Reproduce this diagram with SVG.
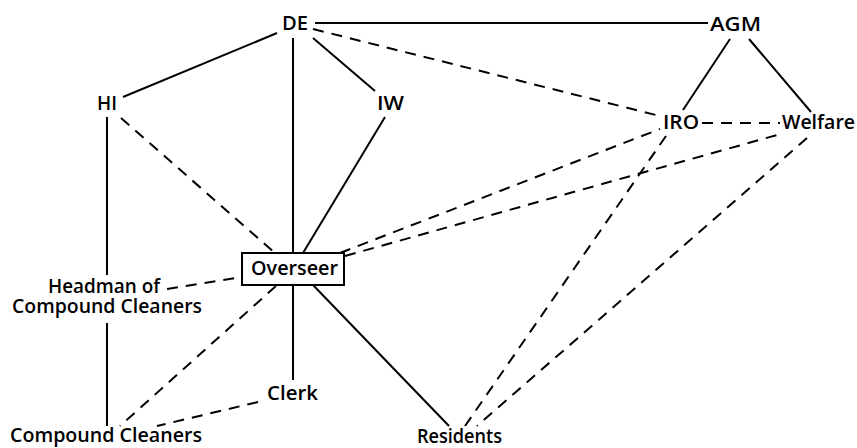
<svg xmlns="http://www.w3.org/2000/svg" width="857" height="448" viewBox="0 0 857 448">
  <style>
    .bg { fill: #ffffff; }
    .solid { stroke: #000; stroke-width: 2; fill: none; stroke-linecap: butt; }
    .dash { stroke: #000; stroke-width: 2; fill: none; stroke-dasharray: 11 8; }
    .lbl { font-family: "Open Sans", "Liberation Sans", sans-serif; font-size: 20px; font-weight: 600; fill: #000; }
    .box { fill: #fff; stroke: #000; stroke-width: 2; }
  </style>
  <rect class="bg" x="0" y="0" width="857" height="448"/>

  <!-- connectors -->
  <g id="connectors">
    <!-- solid lines: formal authority -->
    <line class="solid" x1="315" y1="23" x2="708" y2="23"/>
    <line class="solid" x1="277" y1="33" x2="123" y2="97"/>
    <line class="solid" x1="313" y1="38" x2="375" y2="91"/>
    <line class="solid" x1="293" y1="38" x2="293" y2="253"/>
    <line class="solid" x1="385" y1="117" x2="303" y2="253"/>
    <line class="solid" x1="730" y1="39" x2="683" y2="110"/>
    <line class="solid" x1="749" y1="39" x2="811" y2="112"/>
    <line class="solid" x1="107" y1="117" x2="107" y2="275"/>
    <line class="solid" x1="107" y1="323" x2="107" y2="426"/>
    <line class="solid" x1="293" y1="285" x2="293" y2="380"/>
    <line class="solid" x1="313" y1="285" x2="449" y2="426"/>
    <!-- dashed lines: informal contact -->
    <line class="dash" x1="313" y1="29" x2="660" y2="116"/>
    <line class="dash" x1="702" y1="123" x2="780" y2="123"/>
    <line class="dash" x1="121" y1="118" x2="275" y2="253"/>
    <line class="dash" x1="167" y1="289" x2="242" y2="277"/>
    <line class="dash" x1="340" y1="253" x2="660" y2="129"/>
    <line class="dash" x1="345" y1="256" x2="777" y2="135"/>
    <line class="dash" x1="276" y1="286" x2="120" y2="426"/>
    <line class="dash" x1="258" y1="402" x2="157" y2="426"/>
    <line class="dash" x1="666" y1="136" x2="465" y2="426"/>
    <line class="dash" x1="807" y1="138" x2="477" y2="426"/>
  </g>

  <!-- nodes -->
  <g id="node-de"><text class="lbl" x="282" y="30" textLength="26" lengthAdjust="spacingAndGlyphs">DE</text></g>
  <g id="node-agm"><text class="lbl" x="710" y="31" textLength="51" lengthAdjust="spacingAndGlyphs">AGM</text></g>
  <g id="node-hi"><text class="lbl" x="97" y="110" textLength="20" lengthAdjust="spacingAndGlyphs">HI</text></g>
  <g id="node-iw"><text class="lbl" x="377" y="110" textLength="27" lengthAdjust="spacingAndGlyphs">IW</text></g>
  <g id="node-iro"><text class="lbl" x="663" y="129" textLength="36" lengthAdjust="spacingAndGlyphs">IRO</text></g>
  <g id="node-welfare"><text class="lbl" x="782" y="129" textLength="73" lengthAdjust="spacingAndGlyphs">Welfare</text></g>
  <g id="node-overseer">
    <rect class="box" x="242" y="253" width="102" height="32"/>
    <text class="lbl" x="251" y="275" textLength="87" lengthAdjust="spacingAndGlyphs">Overseer</text>
  </g>
  <g id="node-headman">
    <text class="lbl"><tspan x="48" y="293" textLength="112" lengthAdjust="spacingAndGlyphs">Headman of</tspan><tspan x="12" y="313" textLength="190" lengthAdjust="spacingAndGlyphs">Compound Cleaners</tspan></text>
  </g>
  <g id="node-clerk"><text class="lbl" x="267" y="400" textLength="51" lengthAdjust="spacingAndGlyphs">Clerk</text></g>
  <g id="node-cleaners"><text class="lbl" x="10" y="442" textLength="192" lengthAdjust="spacingAndGlyphs">Compound Cleaners</text></g>
  <g id="node-residents"><text class="lbl" x="417" y="443" textLength="85" lengthAdjust="spacingAndGlyphs">Residents</text></g>
</svg>
